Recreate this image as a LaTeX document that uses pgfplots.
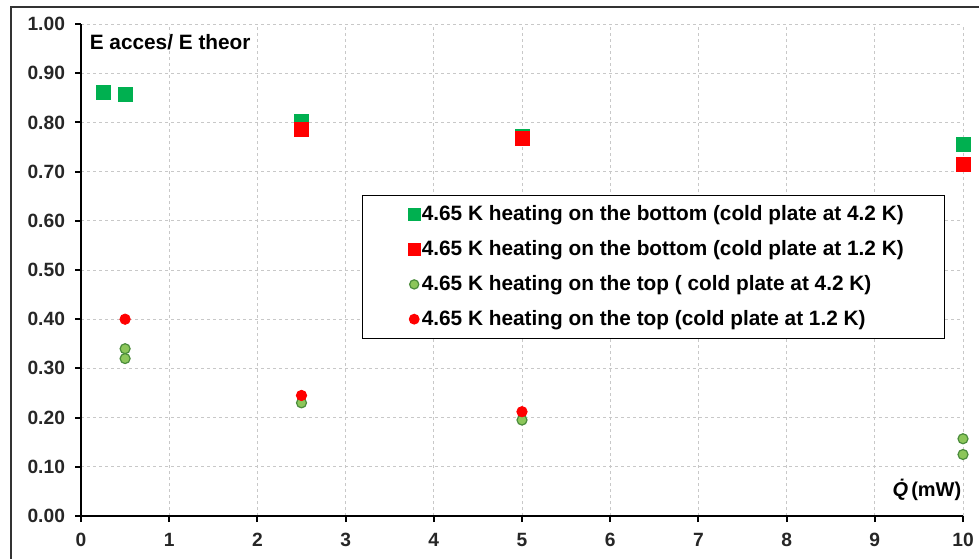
\documentclass[border=0pt]{standalone}
\usepackage{fontspec}
\setmainfont{Liberation Sans}
\usepackage{pgfplots}
\pgfplotsset{compat=1.18}
\usetikzlibrary{calc}
\definecolor{sqgreen}{RGB}{0,176,80}
\definecolor{sqred}{RGB}{255,0,0}
\definecolor{cgfill}{RGB}{140,198,90}
\definecolor{cgedge}{RGB}{75,140,60}
\definecolor{gridgray}{RGB}{200,200,200}

\begin{document}
\begin{tikzpicture}[font=\bfseries\fontsize{9.6}{11}\selectfont]
\begin{axis}[
  name=ax,
  scale only axis,
  width=441pt, height=246pt,
  xmin=0, xmax=10, ymin=0, ymax=1,
  xtick={0,1,2,3,4,5,6,7,8,9,10},
  ytick={0,0.1,0.2,0.3,0.4,0.5,0.6,0.7,0.8,0.9,1.0},
  axis x line*=bottom, axis y line*=left,
  axis line style={line width=1.1pt, black, -},
  tick align=outside,
  major tick length=3pt,
  tick style={line width=1pt, black},
  grid=major,
  grid style={gridgray, dash pattern=on 1.5pt off 1.5pt, line width=0.5pt},
  /pgf/number format/assume math mode=true,
  ticklabel style={font=\bfseries\fontsize{9.6}{11}\selectfont, text=black!85},
  yticklabel style={xshift=-1.5pt, /pgf/number format/fixed,
    /pgf/number format/fixed zerofill, /pgf/number format/precision=2},
  xticklabel style={yshift=-2pt},
  legend style={at={(0.3186,0.652)}, anchor=north west, draw=black, line width=0.6pt,
    inner xsep=18.5pt, inner ysep=3pt, row sep=4.35pt,
    font=\bfseries\fontsize{10.4}{12}\selectfont},
  legend cell align=left,
  legend image code/.code={\path (0pt,0pt) (8.5pt,0pt);
    \draw[#1, overlay] plot coordinates {(7pt,0pt)};},
]
\addplot[only marks, mark=square*, mark size=3.5pt, draw=sqgreen, fill=sqgreen,
  legend image post style={mark size=3pt}]
  coordinates {(0.25,0.860) (0.5,0.856) (2.5,0.803) (5,0.772) (10,0.755)};
\addlegendentry{4.65 K heating on the bottom (cold plate at 4.2 K)}
\addplot[only marks, mark=square*, mark size=3.5pt, draw=sqred, fill=sqred,
  legend image post style={mark size=3pt}]
  coordinates {(2.5,0.785) (5,0.768) (10,0.715)};
\addlegendentry{4.65 K heating on the bottom (cold plate at 1.2 K)}
\addplot[only marks, mark=*, mark size=2.5pt, draw=cgedge, fill=cgfill, line width=0.6pt,
  legend image post style={mark size=2.3pt}]
  coordinates {(0.5,0.340) (0.5,0.320) (2.5,0.230) (5,0.195) (10,0.157) (10,0.125)};
\addlegendentry{4.65 K heating on the top ( cold plate at 4.2 K)}
\addplot[only marks, mark=*, mark size=2.6pt, draw=sqred, fill=sqred,
  legend image post style={mark size=2.4pt}]
  coordinates {(0.5,0.400) (2.5,0.245) (5,0.212)};
\addlegendentry{4.65 K heating on the top (cold plate at 1.2 K)}
\node[anchor=west, font=\bfseries\fontsize{10.4}{12}\selectfont] at (axis cs:0.02,0.963) {E acces/ E theor};
\node[anchor=east, font=\bfseries\fontsize{10}{12}\selectfont] at (axis cs:10.06,0.053) {\textit{\.{Q}}(mW)};
\end{axis}
\draw[line width=0.6pt, black!80] ($(ax.south west)+(-35pt,-30pt)$) |- ($(ax.north east)+(15pt,8.5pt)$);
\pgfresetboundingbox
\path[use as bounding box] ($(ax.south west)+(-40.5pt,-21pt)$) rectangle ($(ax.north east)+(8pt,12pt)$);
\end{tikzpicture}
\end{document}
